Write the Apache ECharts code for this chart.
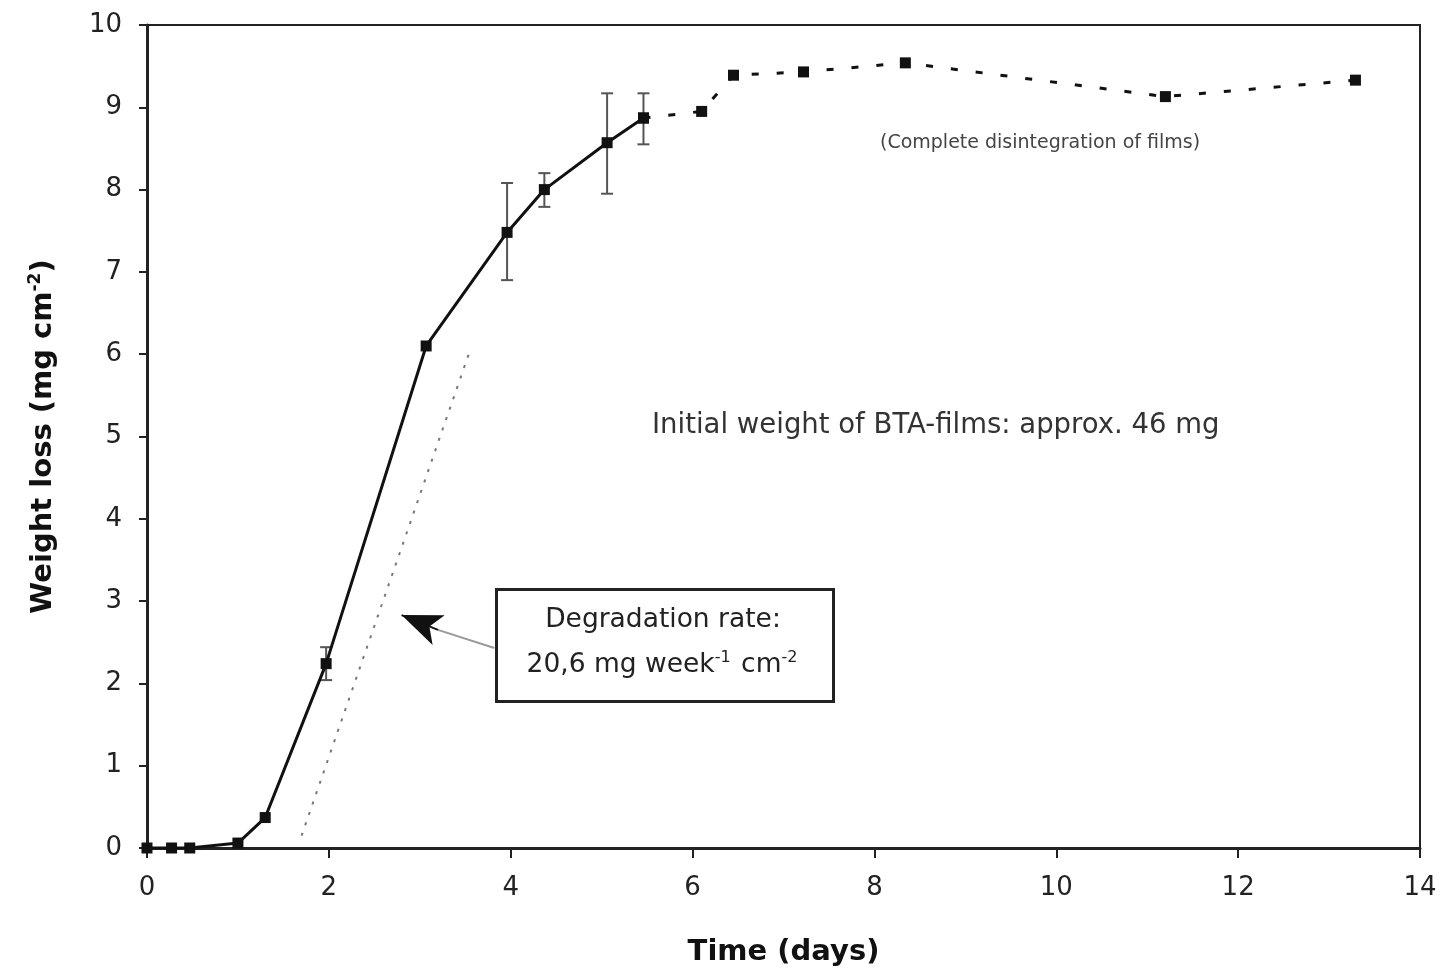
<!DOCTYPE html>
<html>
<head>
<meta charset="utf-8">
<script src="https://cdn.jsdelivr.net/npm/echarts@6/dist/echarts.min.js"></script>
<style>
  html, body { margin: 0; padding: 0; background: #fff; }
  #chart { width: 1450px; height: 974px; }
</style>
</head>
<body>
<div id="chart"></div>
<script>
// measured weight loss, solid part (with error bars)
const measTime = [0, 0.27, 0.47, 1.0, 1.3, 1.97, 3.07, 3.96, 4.37, 5.06, 5.46];
const measLoss = [0, 0, 0, 0.06, 0.37, 2.24, 6.1, 7.48, 8.0, 8.57, 8.87];

// after complete disintegration (dashed part)
const lateTime = [5.46, 6.1, 6.45, 7.22, 8.34, 11.2, 13.29];
const lateLoss = [8.87, 8.95, 9.39, 9.43, 9.54, 9.13, 9.33];

// error bars: time, low, high
const errTime = [1.97, 3.96, 4.37, 5.06, 5.46];
const errLow = [2.04, 6.9, 7.79, 7.95, 8.55];
const errHigh = [2.44, 8.08, 8.2, 9.17, 9.17];

// degradation-rate tangent
const rateTime = [1.7, 3.56];
const rateLoss = [0.15, 6.07];

const xTicks = [0, 2, 4, 6, 8, 10, 12, 14];
const yTicks = [0, 1, 2, 3, 4, 5, 6, 7, 8, 9, 10];

const chart = echarts.init(document.getElementById('chart'));

const font = '"DejaVu Sans", Arial, sans-serif';

const option = {
  backgroundColor: '#fff',
  animation: false,
  grid: {
    left: 147, right: 30, top: 25, bottom: 126,
    show: true, borderColor: '#222', borderWidth: 2
  },
  xAxis: {
    type: 'value',
    min: xTicks[0], max: xTicks[xTicks.length - 1], interval: 2,
    name: 'Time (days)',
    nameLocation: 'middle',
    nameGap: 90,
    nameTextStyle: { fontFamily: font, fontSize: 29, fontWeight: 'bold', color: '#111' },
    axisLine: { lineStyle: { color: '#222', width: 3 } },
    axisTick: { show: true, length: 10, inside: false, lineStyle: { color: '#222', width: 2 } },
    axisLabel: { fontFamily: font, fontSize: 26, color: '#222', margin: 27 },
    splitLine: { show: false }
  },
  yAxis: {
    type: 'value',
    min: yTicks[0], max: yTicks[yTicks.length - 1], interval: 1,
    name: 'Weight loss (mg cm{sup|-2})',
    nameLocation: 'middle',
    nameGap: 88,
    nameRotate: 90,
    nameTextStyle: {
      fontFamily: font, fontSize: 29, fontWeight: 'bold', color: '#111',
      rich: {
        sup: { fontFamily: font, fontSize: 17, fontWeight: 'bold', color: '#111', verticalAlign: 'bottom', padding: [0, 0, 15, 0] }
      }
    },
    axisLine: { lineStyle: { color: '#222', width: 3 } },
    axisTick: { show: true, length: 8, lineStyle: { color: '#222', width: 2 } },
    axisLabel: { fontFamily: font, fontSize: 26, color: '#222', margin: 25 },
    splitLine: { show: false }
  },
  series: [
    {
      name: 'rate',
      type: 'line',
      data: rateTime.map((t, i) => [t, rateLoss[i]]),
      symbol: 'none',
      lineStyle: { color: '#777', width: 2, type: [3, 8] },
      z: 1,
      markLine: {
        silent: true,
        symbol: ['none', 'none'],
        label: { show: false },
        data: [
          [
            { coord: [3.82, 2.43], lineStyle: { color: '#999', width: 2, type: 'solid' } },
            { coord: [3.2, 2.65] }
          ],
          [
            { coord: [3.2, 2.65], symbol: 'none', lineStyle: { color: '#111', width: 2, type: 'solid' } },
            { coord: [2.8, 2.83], symbol: 'arrow', symbolSize: [24, 40] }
          ]
        ]
      }
    },
    {
      name: 'err',
      type: 'custom',
      data: errTime.map((t, i) => [t, errLow[i], errHigh[i]]),
      renderItem: function (params, api) {
        const lo = api.coord([api.value(0), api.value(1)]);
        const hi = api.coord([api.value(0), api.value(2)]);
        const cap = 6;
        const style = { stroke: '#555', lineWidth: 2 };
        return {
          type: 'group',
          children: [
            { type: 'line', shape: { x1: lo[0], y1: lo[1], x2: hi[0], y2: hi[1] }, style },
            { type: 'line', shape: { x1: lo[0] - cap, y1: lo[1], x2: lo[0] + cap, y2: lo[1] }, style },
            { type: 'line', shape: { x1: hi[0] - cap, y1: hi[1], x2: hi[0] + cap, y2: hi[1] }, style }
          ]
        };
      },
      z: 2
    },
    {
      name: 'late',
      type: 'line',
      data: lateTime.map((t, i) => [t, lateLoss[i]]),
      symbol: 'rect',
      symbolSize: 11,
      itemStyle: { color: '#111' },
      lineStyle: { color: '#111', width: 3, type: [7, 18] },
      z: 3
    },
    {
      name: 'measured',
      type: 'line',
      data: measTime.map((t, i) => [t, measLoss[i]]),
      symbol: 'rect',
      symbolSize: 11,
      itemStyle: { color: '#111' },
      lineStyle: { color: '#111', width: 3 },
      z: 4
    }
  ],
  graphic: [
    {
      type: 'text',
      left: 652, top: 412,
      style: {
        text: 'Initial weight of BTA-films: approx. 46 mg',
        font: '27.5px "DejaVu Sans", Arial, sans-serif',
        fill: '#333'
      }
    },
    {
      type: 'text',
      left: 880, top: 134,
      style: {
        text: '(Complete disintegration of films)',
        font: '19px "DejaVu Sans", Arial, sans-serif',
        fill: '#444'
      }
    },
    {
      type: 'rect',
      left: 495, top: 588,
      shape: { width: 337, height: 112 },
      style: { fill: '#fff', stroke: '#222', lineWidth: 3 },
      z: 10
    },
    {
      type: 'text',
      x: 663, y: 620,
      style: {
        text: 'Degradation rate:',
        font: '26.5px "DejaVu Sans", Arial, sans-serif',
        fill: '#222',
        align: 'center',
        verticalAlign: 'middle'
      },
      z: 11
    },
    {
      type: 'text',
      x: 663, y: 665,
      style: {
        text: '{b|20,6 mg week}{s|-1}{b| cm}{s|-2}',
        align: 'center',
        verticalAlign: 'middle',
        rich: {
          b: { font: '26.5px "DejaVu Sans", Arial, sans-serif', fill: '#222' },
          s: { font: '16px "DejaVu Sans", Arial, sans-serif', fill: '#222', verticalAlign: 'bottom', padding: [0, 2, 15, 0] }
        }
      },
      z: 11
    }
  ]
};

chart.setOption(option);
</script>
</body>
</html>
